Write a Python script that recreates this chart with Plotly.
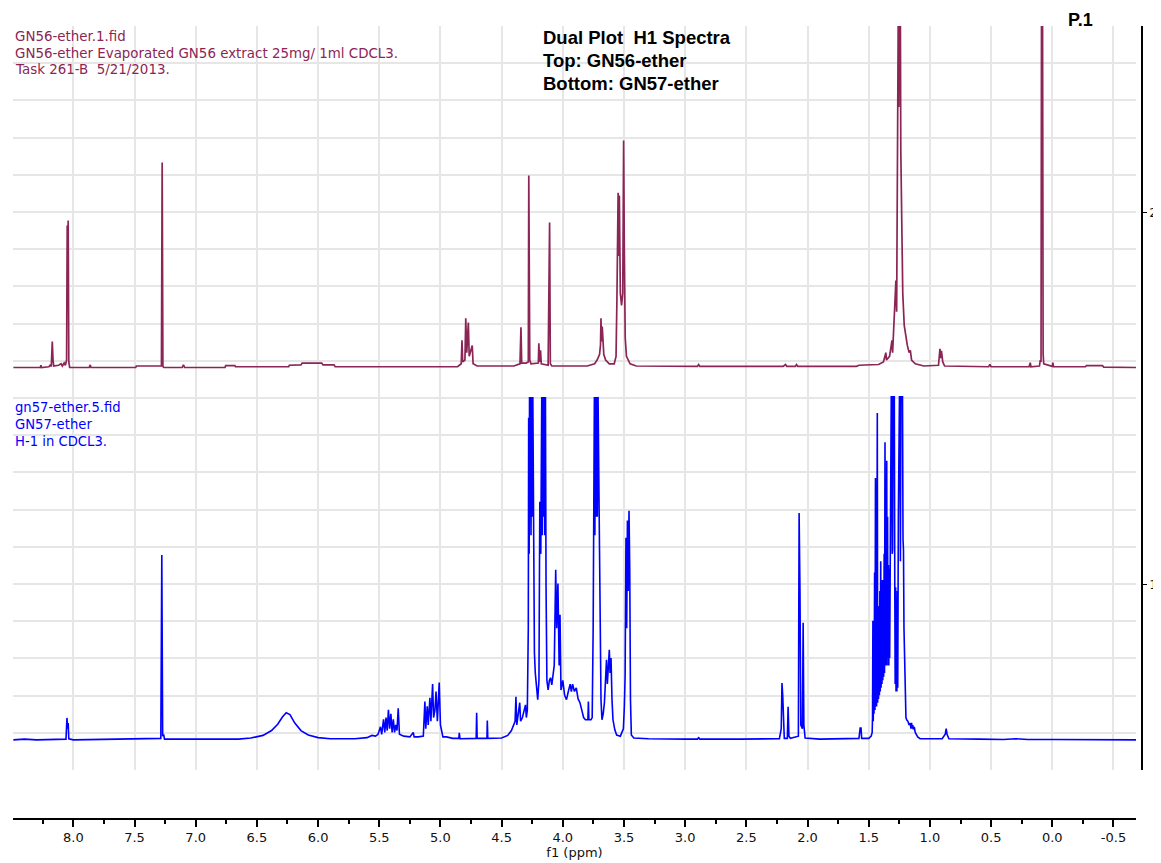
import plotly.graph_objects as go

# ---------------- data ----------------
# x axis ticks
tick_vals = [8.0, 7.5, 7.0, 6.5, 6.0, 5.5, 5.0, 4.5, 4.0, 3.5, 3.0, 2.5, 2.0, 1.5, 1.0, 0.5, 0.0, -0.5]
tick_text = ["8.0", "7.5", "7.0", "6.5", "6.0", "5.5", "5.0", "4.5", "4.0", "3.5", "3.0", "2.5",
             "2.0", "1.5", "1.0", "0.5", "0.0", "-0.5"]

# Top spectrum GN56-ether: (ppm, intensity above its own baseline, axis units)
top_points = [
    (8.49, 0.000), (8.27, 0.000), (8.265, 0.006), (8.26, 0.000), (8.20, 0.002), (8.19, 0.006),
    (8.18, 0.003), (8.172, 0.070), (8.166, 0.020), (8.16, 0.004), (8.12, 0.006), (8.10, 0.010),
    (8.09, 0.004), (8.075, 0.012), (8.065, 0.006), (8.055, 0.020), (8.050, 0.382), (8.046, 0.300),
    (8.042, 0.395), (8.037, 0.015), (8.03, 0.000), (7.87, 0.000), (7.862, 0.007), (7.855, 0.000),
    (7.49, 0.000), (7.485, 0.004), (7.28, 0.004), (7.274, 0.551), (7.268, 0.003), (7.26, 0.000),
    (7.11, 0.000), (7.10, 0.007), (7.09, 0.000), (6.76, 0.000), (6.755, 0.005), (6.68, 0.005),
    (6.675, 0.002), (6.24, 0.002), (6.235, 0.006), (6.14, 0.007), (6.13, 0.012), (5.97, 0.012),
    (5.96, 0.007), (5.87, 0.007), (5.86, 0.002), (5.20, 0.002), (4.86, 0.002), (4.83, 0.010),
    (4.824, 0.073), (4.818, 0.015), (4.80, 0.020), (4.793, 0.132), (4.785, 0.040), (4.772, 0.121),
    (4.765, 0.030), (4.740, 0.059), (4.733, 0.010), (4.70, 0.004), (4.50, 0.003), (4.40, 0.004),
    (4.35, 0.010), (4.342, 0.108), (4.336, 0.012), (4.30, 0.012), (4.282, 0.015), (4.278, 0.516),
    (4.270, 0.020), (4.26, 0.010), (4.20, 0.012), (4.196, 0.065), (4.190, 0.015), (4.182, 0.046),
    (4.176, 0.010), (4.12, 0.006), (4.108, 0.390), (4.102, 0.010), (4.09, 0.004), (3.80, 0.004),
    (3.74, 0.010), (3.72, 0.020), (3.70, 0.035), (3.692, 0.060), (3.688, 0.132), (3.684, 0.070),
    (3.678, 0.110), (3.672, 0.050), (3.665, 0.035), (3.65, 0.020), (3.62, 0.010), (3.58, 0.010),
    (3.565, 0.030), (3.558, 0.180), (3.548, 0.470), (3.542, 0.300), (3.538, 0.462), (3.530, 0.200),
    (3.52, 0.167), (3.51, 0.200), (3.503, 0.610), (3.497, 0.310), (3.49, 0.080), (3.48, 0.030),
    (3.45, 0.010), (3.40, 0.004), (2.90, 0.003), (2.89, 0.008), (2.88, 0.003), (2.20, 0.003),
    (2.18, 0.008), (2.17, 0.003), (2.10, 0.003), (2.09, 0.008), (2.08, 0.003), (1.60, 0.003),
    (1.58, 0.006), (1.42, 0.008), (1.38, 0.015), (1.36, 0.040), (1.355, 0.020), (1.33, 0.030),
    (1.31, 0.073), (1.305, 0.040), (1.295, 0.100), (1.285, 0.160), (1.278, 0.234), (1.272, 0.150),
    (1.265, 0.589), (1.258, 1.000), (1.254, 0.700), (1.250, 1.000), (1.246, 0.800), (1.242, 1.000),
    (1.238, 0.583), (1.230, 0.315), (1.222, 0.200), (1.210, 0.113), (1.195, 0.080), (1.185, 0.060),
    (1.170, 0.040), (1.160, 0.046), (1.150, 0.020), (1.12, 0.010), (1.05, 0.004), (0.93, 0.006),
    (0.918, 0.050), (0.912, 0.025), (0.906, 0.045), (0.895, 0.015), (0.88, 0.004), (0.52, 0.002),
    (0.51, 0.008), (0.50, 0.002), (0.19, 0.002), (0.18, 0.013), (0.175, 0.002), (0.105, 0.004),
    (0.098, 0.020), (0.092, 0.015), (0.088, 1.000), (0.084, 0.800), (0.080, 1.000), (0.075, 0.037),
    (0.070, 0.010), (0.00, 0.003), (-0.005, 0.013), (-0.01, 0.002), (-0.27, 0.002), (-0.28, 0.005),
    (-0.41, 0.005), (-0.42, 0.001), (-0.684, 0.000),
]

# Bottom spectrum GN57-ether: (ppm, intensity); clipped peaks are shown at the clip level 0.922
bottom_points = [
    (8.49, 0.000), (8.40, 0.002), (8.30, 0.000), (8.06, 0.002), (8.052, 0.059), (8.047, 0.030),
    (8.042, 0.045), (8.037, 0.003), (8.00, 0.000), (7.60, 0.002), (7.40, 0.002), (7.285, 0.004),
    (7.277, 0.497), (7.270, 0.010), (7.262, 0.015), (7.255, 0.002), (6.65, 0.002), (6.55, 0.005),
    (6.45, 0.012), (6.38, 0.025), (6.33, 0.042), (6.29, 0.062), (6.26, 0.073), (6.23, 0.068),
    (6.19, 0.045), (6.14, 0.025), (6.08, 0.013), (6.00, 0.006), (5.90, 0.003), (5.70, 0.003),
    (5.60, 0.006), (5.56, 0.012), (5.53, 0.010), (5.51, 0.015), (5.49, 0.035), (5.48, 0.015),
    (5.465, 0.055), (5.455, 0.020), (5.445, 0.060), (5.435, 0.025), (5.425, 0.081), (5.415, 0.030),
    (5.405, 0.070), (5.395, 0.020), (5.385, 0.055), (5.375, 0.020), (5.365, 0.040), (5.355, 0.025),
    (5.345, 0.085), (5.335, 0.015), (5.30, 0.010), (5.25, 0.008), (5.222, 0.020), (5.215, 0.008),
    (5.18, 0.008), (5.14, 0.010), (5.127, 0.103), (5.12, 0.030), (5.108, 0.090), (5.10, 0.040),
    (5.086, 0.113), (5.078, 0.050), (5.064, 0.150), (5.056, 0.060), (5.045, 0.080), (5.036, 0.130),
    (5.025, 0.050), (5.018, 0.120), (5.010, 0.154), (5.000, 0.040), (4.990, 0.020), (4.980, 0.008),
    (4.95, 0.008), (4.90, 0.004), (4.85, 0.004), (4.846, 0.019), (4.84, 0.003), (4.708, 0.004),
    (4.704, 0.073), (4.700, 0.004), (4.620, 0.004), (4.617, 0.052), (4.613, 0.004), (4.50, 0.005),
    (4.45, 0.012), (4.42, 0.025), (4.39, 0.050), (4.383, 0.116), (4.376, 0.040), (4.365, 0.070),
    (4.352, 0.100), (4.345, 0.050), (4.33, 0.060), (4.305, 0.094), (4.298, 0.060), (4.290, 0.080),
    (4.282, 0.300), (4.279, 0.866), (4.275, 0.500), (4.272, 0.922), (4.268, 0.600), (4.265, 0.922),
    (4.260, 0.550), (4.255, 0.922), (4.250, 0.600), (4.245, 0.922), (4.238, 0.368), (4.232, 0.234),
    (4.225, 0.180), (4.215, 0.134), (4.205, 0.108), (4.195, 0.160), (4.188, 0.640), (4.180, 0.500),
    (4.172, 0.922), (4.168, 0.550), (4.164, 0.922), (4.158, 0.600), (4.153, 0.922), (4.148, 0.550),
    (4.142, 0.922), (4.137, 0.410), (4.130, 0.160), (4.120, 0.134), (4.110, 0.160), (4.100, 0.167),
    (4.090, 0.148), (4.070, 0.200), (4.058, 0.457), (4.050, 0.300), (4.040, 0.420), (4.030, 0.200),
    (4.023, 0.336), (4.015, 0.134), (4.000, 0.160), (3.985, 0.120), (3.970, 0.108), (3.955, 0.130),
    (3.940, 0.150), (3.930, 0.130), (3.920, 0.150), (3.905, 0.130), (3.890, 0.140), (3.875, 0.110),
    (3.860, 0.100), (3.845, 0.080), (3.830, 0.060), (3.815, 0.054), (3.800, 0.054), (3.795, 0.054),
    (3.791, 0.103), (3.787, 0.054), (3.770, 0.054), (3.760, 0.060), (3.752, 0.300), (3.748, 0.497),
    (3.742, 0.922), (3.738, 0.550), (3.733, 0.922), (3.728, 0.600), (3.723, 0.922), (3.718, 0.600),
    (3.712, 0.922), (3.700, 0.510), (3.694, 0.224), (3.688, 0.108), (3.680, 0.054), (3.670, 0.070),
    (3.660, 0.100), (3.650, 0.180), (3.643, 0.215), (3.636, 0.150), (3.628, 0.207), (3.620, 0.242),
    (3.614, 0.180), (3.606, 0.220), (3.598, 0.108), (3.590, 0.054), (3.575, 0.027), (3.560, 0.013),
    (3.530, 0.010), (3.505, 0.030), (3.497, 0.090), (3.491, 0.170), (3.484, 0.543), (3.478, 0.300),
    (3.472, 0.590), (3.466, 0.400), (3.459, 0.616), (3.453, 0.457), (3.447, 0.108), (3.440, 0.013),
    (3.420, 0.005), (3.30, 0.003), (3.00, 0.002), (2.90, 0.002), (2.89, 0.006), (2.88, 0.002),
    (2.55, 0.002), (2.30, 0.002), (2.23, 0.003), (2.215, 0.030), (2.209, 0.153), (2.203, 0.120),
    (2.197, 0.020), (2.19, 0.004), (2.165, 0.004), (2.159, 0.089), (2.152, 0.010), (2.14, 0.004),
    (2.075, 0.010), (2.069, 0.610), (2.062, 0.400), (2.055, 0.040), (2.042, 0.030), (2.036, 0.315),
    (2.030, 0.040), (2.02, 0.005), (1.90, 0.002), (1.70, 0.003), (1.58, 0.004), (1.57, 0.032),
    (1.563, 0.032), (1.558, 0.004), (1.50, 0.004), (1.480, 0.010), (1.472, 0.020), (1.469, 0.060),
    (1.466, 0.320), (1.463, 0.050), (1.460, 0.320), (1.457, 0.070), (1.452, 0.450), (1.449, 0.080),
    (1.445, 0.704), (1.442, 0.100), (1.439, 0.600), (1.436, 0.090), (1.430, 0.879), (1.427, 0.100),
    (1.423, 0.350), (1.420, 0.110), (1.416, 0.360), (1.413, 0.120), (1.409, 0.400), (1.406, 0.130),
    (1.402, 0.480), (1.399, 0.140), (1.395, 0.420), (1.392, 0.150), (1.388, 0.430), (1.385, 0.160),
    (1.381, 0.400), (1.378, 0.170), (1.374, 0.500), (1.371, 0.180), (1.367, 0.800), (1.364, 0.200),
    (1.360, 0.700), (1.357, 0.200), (1.353, 0.750), (1.350, 0.220), (1.346, 0.600), (1.343, 0.200),
    (1.339, 0.470), (1.336, 0.200), (1.332, 0.460), (1.329, 0.220), (1.325, 0.500), (1.322, 0.300),
    (1.316, 0.922), (1.312, 0.922), (1.308, 0.500), (1.305, 0.510), (1.301, 0.922), (1.296, 0.922),
    (1.291, 0.922), (1.287, 0.400), (1.284, 0.150), (1.280, 0.410), (1.277, 0.130), (1.273, 0.380),
    (1.270, 0.130), (1.266, 0.400), (1.263, 0.140), (1.258, 0.600), (1.254, 0.922), (1.249, 0.922),
    (1.245, 0.922), (1.241, 0.480), (1.237, 0.922), (1.232, 0.922), (1.228, 0.922), (1.224, 0.922),
    (1.220, 0.540), (1.216, 0.510), (1.212, 0.300), (1.208, 0.240), (1.204, 0.108), (1.200, 0.120),
    (1.196, 0.060), (1.190, 0.054), (1.180, 0.050), (1.170, 0.040), (1.160, 0.045), (1.155, 0.030),
    (1.150, 0.046), (1.145, 0.030), (1.140, 0.040), (1.135, 0.028), (1.128, 0.035), (1.120, 0.020),
    (1.110, 0.015), (1.100, 0.008), (1.080, 0.003), (0.90, 0.003), (0.875, 0.015), (0.867, 0.030),
    (0.860, 0.015), (0.845, 0.003), (0.60, 0.002), (0.40, 0.001), (0.30, 0.003), (0.20, 0.001),
    (0.00, 0.001), (-0.684, 0.000),
]

top_ppm = [p for p, _ in top_points]
top_int = [v for _, v in top_points]
bot_ppm = [p for p, _ in bottom_points]
bot_int = [v for _, v in bottom_points]

top_labels = ["GN56-ether.1.fid",
              "GN56-ether Evaporated GN56 extract 25mg/ 1ml CDCL3.",
              "Task 261-B  5/21/2013."]
bot_labels = ["gn57-ether.5.fid", "GN57-ether", "H-1 in CDCL3."]
title_lines = ["Dual Plot  H1 Spectra", "Top: GN56-ether", "Bottom: GN57-ether"]

# ---------------- styling / layout ----------------
TOP_BASE = 1.582
BOT_BASE = 0.581
MAROON = "#8b2556"
BLUE = "#0000ff"
GRID = "#e6e6e6"
TXT = "#111111"

OFF = 8  # page body margin
W, H = 1172 - OFF, 863 - OFF
ML = 13.3 - OFF
YAX_X = 1141.7 - OFF
MR = W - YAX_X
MT = 26 - OFF
XAX_Y = 818 - OFF
MB = H - XAX_Y
PW, PH = W - ML - MR, H - MT - MB


def px(x):  # screen x -> paper
    return (x - OFF - ML) / PW


def py(y):  # screen y -> paper
    return (H - MB - (y - OFF)) / PH


fig = go.Figure()
fig.add_trace(go.Scatter(x=top_ppm, y=[TOP_BASE + v for v in top_int], mode="lines",
                         line=dict(color=MAROON, width=1.7), showlegend=False, hoverinfo="skip"))
fig.add_trace(go.Scatter(x=bot_ppm, y=[BOT_BASE + v for v in bot_int], mode="lines",
                         line=dict(color=BLUE, width=1.6), showlegend=False, hoverinfo="skip"))
# empty trace so that the separate bottom ppm axis is drawn
fig.add_trace(go.Scatter(x=[], y=[], xaxis="x2", yaxis="y2", mode="lines",
                         showlegend=False, hoverinfo="skip"))

xdom = [0, px(1135.7)]
ydom = [py(770), 1]
xr = [8.493, -0.684]

annotations = []
for i, t in enumerate(top_labels):
    annotations.append(dict(text=t, x=px(13.5), y=py(37 + 16.2 * i), xref="paper", yref="paper",
                            xanchor="left", yanchor="middle", showarrow=False,
                            font=dict(family="DejaVu Sans", size=13.4, color=MAROON)))
for i, t in enumerate(bot_labels):
    annotations.append(dict(text=t, x=px(13.5), y=py(407.5 + 17 * i), xref="paper", yref="paper",
                            xanchor="left", yanchor="middle", showarrow=False,
                            font=dict(family="DejaVu Sans", size=13.2, color=BLUE)))
for i, t in enumerate(title_lines):
    annotations.append(dict(text="<b>" + t + "</b>", x=px(541), y=py(37.5 + 23 * i),
                            xref="paper", yref="paper", xanchor="left", yanchor="middle",
                            showarrow=False,
                            font=dict(family="Liberation Sans", size=18.5, color="#000")))
annotations.append(dict(text="<b>P.1</b>", x=px(1080), y=py(20), xref="paper", yref="paper",
                        xanchor="center", yanchor="middle", showarrow=False,
                        font=dict(family="Liberation Sans", size=18, color="#000")))

fig.update_layout(
    width=W, height=H,
    margin=dict(l=ML, r=MR, t=MT, b=MB, pad=0),
    paper_bgcolor="white", plot_bgcolor="white",
    showlegend=False,
    annotations=annotations,
    xaxis=dict(domain=xdom, anchor="y", range=xr, tickmode="linear", tick0=0, dtick=0.5,
               showgrid=True, gridcolor=GRID, gridwidth=2, showticklabels=False, ticks="",
               showline=False, zeroline=False, automargin=False),
    yaxis=dict(domain=ydom, range=[0.5, 2.5], side="right", anchor="free", position=1.0,
               tickmode="linear", tick0=0, dtick=1, showgrid=True, gridcolor=GRID, gridwidth=2,
               minor=dict(tick0=0.5, dtick=0.1, showgrid=True, gridcolor=GRID, gridwidth=2,
                          ticks=""),
               showline=True, linecolor="#000", linewidth=1.5, ticks="outside", ticklen=4,
               tickwidth=1.2, tickcolor="#000", zeroline=False, automargin=False,
               tickfont=dict(family="DejaVu Sans", size=13, color=TXT)),
    xaxis2=dict(domain=xdom, anchor="y2", matches="x", range=xr, tickmode="array",
                tickvals=tick_vals, ticktext=tick_text, showgrid=False, zeroline=False,
                showline=True, linecolor="#000", linewidth=1.5, ticks="outside", ticklen=7,
                tickwidth=1.5, tickcolor="#000",
                minor=dict(tickmode="linear", tick0=0, dtick=0.25, ticks="outside", ticklen=4,
                           tickwidth=1.5, tickcolor="#000"),
                tickfont=dict(family="DejaVu Sans", size=13, color=TXT),
                title=dict(text="f1 (ppm)", standoff=2,
                           font=dict(family="DejaVu Sans", size=13, color=TXT)),
                automargin=False),
    yaxis2=dict(domain=[0, py(770) * 0.5], anchor="x2", range=[0, 1], visible=False),
)

fig.write_html("out.html")
